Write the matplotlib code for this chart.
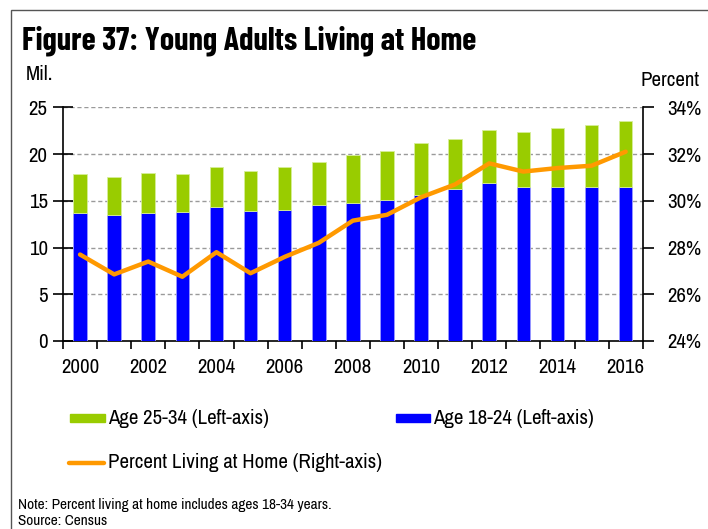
import matplotlib
matplotlib.use("Agg")
import matplotlib.pyplot as plt
from matplotlib.patches import Rectangle
from matplotlib.lines import Line2D
import numpy as np

BODY = ['Archivo Narrow', 'DejaVu Sans']
TITLE = ['Barlow Condensed', 'DejaVu Sans']
plt.rcParams['font.family'] = BODY

years = list(range(2000, 2017))
age_18_24 = [13.7, 13.5, 13.7, 13.75, 14.3, 13.9, 14.05, 14.5, 14.75,
             15.1, 15.65, 16.25, 16.95, 16.5, 16.5, 16.5, 16.5]
total_18_34 = [17.85, 17.55, 18.0, 17.85, 18.6, 18.15, 18.6, 19.15, 19.9,
               20.3, 21.2, 21.65, 22.55, 22.35, 22.8, 23.1, 23.55]
age_25_34 = [t - y for t, y in zip(total_18_34, age_18_24)]
pct_home = [27.7, 26.85, 27.4, 26.75, 27.8, 26.9, 27.6, 28.2, 29.15,
            29.4, 30.15, 30.7, 31.6, 31.25, 31.4, 31.5, 32.1]
xtick_labels = [str(y) for y in years[::2]]

GREEN = '#99CC00'
BLUE = '#0000FF'
ORANGE = '#FF9900'

W, H = 708, 529
fig = plt.figure(figsize=(W / 100, H / 100), dpi=100)

# frame
fig.add_artist(Rectangle((10.5 / W, -0.1), 1.2, (H - 10) / H + 0.1,
                         transform=fig.transFigure, fill=False,
                         edgecolor='#555555', linewidth=1.0))

ax = fig.add_axes([63 / W, (H - 341) / H, (642.7 - 63) / W, (341 - 107.3) / H])
x = np.arange(len(years))
bw = 0.4
ax.bar(x, age_18_24, width=bw, color=BLUE, edgecolor='#9a9aff', linewidth=0.6, zorder=3)
ax.bar(x, age_25_34, bottom=age_18_24, width=bw, color=GREEN,
       edgecolor='#d6ee99', linewidth=0.6, zorder=3)

ax.set_xlim(-0.5, len(years) - 0.5)
ax.set_ylim(0, 25)
ax.set_yticks([0, 5, 10, 15, 20, 25])
ax.set_xticks(np.arange(0, len(years), 2))
ax.set_xticklabels(xtick_labels)
ax.set_xticks(np.arange(-0.5, len(years), 1), minor=True)
ax.tick_params(axis='x', which='major', length=0, pad=12, labelsize=15)
ax.tick_params(axis='x', which='minor', length=6, width=1.2, direction='out')
ax.tick_params(axis='y', length=14, width=1.2, direction='inout', labelsize=15, pad=4)
for yv in [5, 10, 15, 20, 25]:
    ax.axhline(yv, color='#9a9a9a', linestyle=(0, (3, 2)), linewidth=1.0, zorder=1)
ax.spines['top'].set_visible(False)
ax.spines['left'].set_linewidth(1.2)
ax.spines['bottom'].set_linewidth(1.2)
ax.spines['right'].set_visible(False)

ax2 = ax.twinx()
ax2.plot(x, pct_home, color=ORANGE, linewidth=3.2, zorder=5, solid_capstyle='round')
ax2.set_ylim(24, 34)
ax2.set_yticks([24, 26, 28, 30, 32, 34])
ax2.set_yticklabels(['24%', '26%', '28%', '30%', '32%', '34%'])
ax2.tick_params(axis='y', length=8, width=1.2, direction='out', labelsize=15, pad=10)
ax2.spines['top'].set_visible(False)
ax2.spines['left'].set_visible(False)
ax2.spines['bottom'].set_visible(False)
ax2.spines['right'].set_linewidth(1.2)

# texts
fig.text(22 / W, 1 - 49 / H, 'Figure 37: Young Adults Living at Home',
         fontsize=23.2, fontweight='bold', va='baseline', ha='left', family=TITLE)
fig.text(26 / W, 1 - 75 / H, 'Mil.', fontsize=15, va='center', ha='left')
fig.text(700 / W, 1 - 80 / H, 'Percent', fontsize=15, va='center', ha='right')

# legend
def patch(x0, x1, yc, color):
    fig.add_artist(Rectangle((x0 / W, 1 - (yc + 4) / H), (x1 - x0) / W, 8 / H,
                             transform=fig.transFigure, color=color))

patch(70, 105, 418, GREEN)
fig.text(108 / W, 1 - 418 / H, 'Age 25-34 (Left-axis)', fontsize=15, va='center')
patch(396, 430, 418, BLUE)
fig.text(433 / W, 1 - 418 / H, 'Age 18-24 (Left-axis)', fontsize=15, va='center')
fig.add_artist(Line2D([69 / W, 104 / W], [1 - 463 / H, 1 - 463 / H],
                      transform=fig.transFigure, color=ORANGE, linewidth=3.2,
                      solid_capstyle='round'))
fig.text(108 / W, 1 - 463 / H, 'Percent Living at Home (Right-axis)', fontsize=15, va='center')

fig.text(18 / W, 1 - 505 / H, 'Note: Percent living at home includes ages 18-34 years.',
         fontsize=11, va='center')
fig.text(18 / W, 1 - 521 / H, 'Source: Census', fontsize=11, va='center')

fig.savefig('out.png', dpi=100)
